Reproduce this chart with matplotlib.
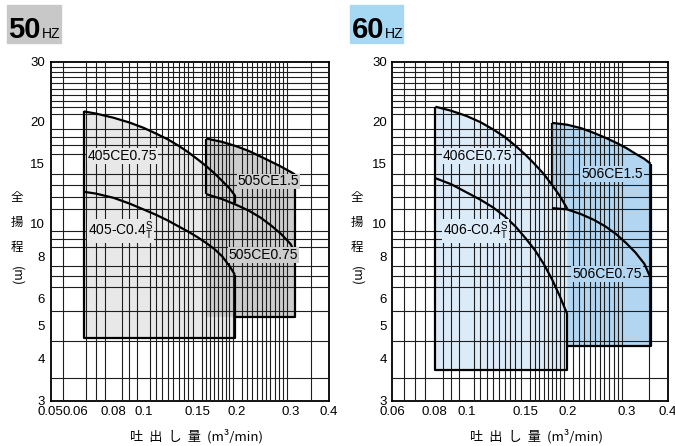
import matplotlib.pyplot as plt
import numpy as np
from matplotlib.patches import Rectangle

plt.rcParams['font.family'] = ['Liberation Sans', 'DejaVu Sans']
plt.rcParams['mathtext.fontset'] = 'custom'
plt.rcParams['mathtext.rm'] = 'Liberation Sans'
cjk = ['Noto Sans CJK JP', 'DejaVu Sans']

# ---- 50Hz curves (flow m3/min, head m) ----
q_405ce075 = [0.064, 0.07, 0.08, 0.09, 0.10, 0.11, 0.12, 0.13, 0.14, 0.15, 0.16, 0.17, 0.18, 0.19, 0.198]
h_405ce075 = [21.4, 21.1, 20.5, 19.85, 19.15, 18.4, 17.7, 16.95, 16.2, 15.45, 14.75, 14.05, 13.35, 12.7, 12.1]
q_405c04 = [0.064, 0.07, 0.08, 0.09, 0.10, 0.11, 0.12, 0.13, 0.14, 0.15, 0.16, 0.17, 0.18, 0.19, 0.198]
h_405c04 = [12.4, 12.25, 11.9, 11.45, 11.0, 10.6, 10.2, 9.8, 9.45, 9.1, 8.75, 8.4, 8.0, 7.5, 7.06]
q_505ce15 = [0.16, 0.18, 0.20, 0.22, 0.24, 0.26, 0.28, 0.30, 0.31]
h_505ce15 = [17.8, 17.4, 16.9, 16.35, 15.75, 15.2, 14.7, 14.2, 13.95]
q_505ce075 = [0.16, 0.18, 0.20, 0.22, 0.24, 0.26, 0.28, 0.30, 0.31]
h_505ce075 = [12.2, 11.8, 11.35, 10.9, 10.4, 9.85, 9.3, 8.7, 8.2]
h_min_405 = 4.6
h_min_505 = 5.3

# ---- 60Hz curves ----
q_406ce075 = [0.0807, 0.09, 0.10, 0.11, 0.12, 0.13, 0.14, 0.15, 0.16, 0.17, 0.18, 0.19, 0.20]
h_406ce075 = [22.1, 21.5, 20.75, 19.9, 18.95, 18.0, 16.95, 15.95, 14.95, 14.0, 13.0, 12.05, 11.05]
q_406c04 = [0.0807, 0.09, 0.10, 0.11, 0.12, 0.13, 0.14, 0.15, 0.16, 0.17, 0.18, 0.19, 0.20]
h_406c04 = [13.6, 13.05, 12.35, 11.75, 11.15, 10.5, 9.8, 9.05, 8.35, 7.6, 6.85, 6.1, 5.4]
q_506ce15 = [0.18, 0.20, 0.22, 0.24, 0.26, 0.28, 0.30, 0.32, 0.34, 0.355]
h_506ce15 = [19.8, 19.55, 19.1, 18.5, 17.9, 17.3, 16.7, 16.05, 15.5, 15.0]
q_506ce075 = [0.18, 0.20, 0.22, 0.24, 0.26, 0.28, 0.30, 0.32, 0.34, 0.355]
h_506ce075 = [11.1, 11.0, 10.65, 10.25, 9.8, 9.3, 8.75, 8.2, 7.6, 6.9]
h_min_406 = 3.69
h_min_506 = 4.36

yticks = [3, 4, 5, 6, 8, 10, 15, 20, 30]
xticks_50 = [0.05, 0.06, 0.08, 0.1, 0.15, 0.2, 0.3, 0.4]
xticks_60 = [0.06, 0.08, 0.1, 0.15, 0.2, 0.3, 0.4]

grey_lt, grey_dk = '#e8e8e8', '#cdcdcd'
blue_lt, blue_dk = '#dcebf8', '#b2d6f1'
LW = 1.6


def base_axes(ax, x0, xticks):
    ax.set_xscale('log')
    ax.set_yscale('log')
    ax.set_xlim(x0, 0.4)
    ax.set_ylim(3, 30)
    xg = list(np.arange(x0, 0.2, 0.005)) + list(np.linspace(0.2, 0.3, 13)) + [0.35]
    yg = list(np.arange(3, 10, 0.5)) + list(np.arange(10, 31, 1))
    ax.set_xticks(xticks)
    ax.set_xticklabels([('%g' % t) for t in xticks])
    ax.set_yticks(yticks)
    ax.set_yticklabels([str(t) for t in yticks])
    ax.set_xticks(xg, minor=True)
    ax.set_yticks(yg, minor=True)
    ax.xaxis.set_minor_formatter(plt.NullFormatter())
    ax.yaxis.set_minor_formatter(plt.NullFormatter())
    ax.tick_params(which='both', length=0, labelsize=9.5, pad=4)
    ax.grid(which='minor', color='#1e1e1e', lw=0.8)
    ax.grid(which='major', visible=False)
    ax.set_axisbelow(False)
    for s in ax.spines.values():
        s.set_linewidth(1.3)


def region(ax, q, h, hmin, color, z):
    ax.fill(q + [q[-1], q[0]], h + [hmin, hmin], color=color, lw=0, zorder=z)


def seg(ax, xs, ys, z=3):
    ax.plot(xs, ys, color='black', lw=LW, zorder=z, solid_capstyle='butt')


def label(ax, x, y, s, color):
    ax.text(x, y, s, ha='left', va='center', fontsize=10, zorder=5,
            bbox=dict(fc=color, ec='none', pad=0.6))


fig = plt.figure(figsize=(6.75, 4.46), dpi=100)
ax1 = fig.add_axes([50.7 / 675, 1 - 400.7 / 446, 278.3 / 675, 339 / 446])
ax2 = fig.add_axes([392.3 / 675, 1 - 400.7 / 446, 275.7 / 675, 339 / 446])

# 50Hz
base_axes(ax1, 0.05, xticks_50)
region(ax1, q_405ce075, h_405ce075, h_min_405, grey_lt, 1.0)
region(ax1, q_505ce15, h_505ce15, h_min_505, grey_dk, 1.1)
seg(ax1, [q_405ce075[0], q_405ce075[0], q_405ce075[-1], q_405ce075[-1]],
    [h_405ce075[0], h_min_405, h_min_405, h_405c04[-1]])
seg(ax1, [q_405ce075[-1], q_405ce075[-1]], [h_405ce075[-1], 11.5])
seg(ax1, [q_505ce15[0], q_505ce15[0]], [h_505ce075[0], h_505ce15[0]])
seg(ax1, [q_405ce075[-1], q_505ce15[-1], q_505ce15[-1]], [h_min_505, h_min_505, h_505ce15[-1]])
for q, h in [(q_405ce075, h_405ce075), (q_405c04, h_405c04),
             (q_505ce15, h_505ce15), (q_505ce075, h_505ce075)]:
    seg(ax1, q, h, 4)
label(ax1, 0.066, 15.8, '405CE0.75', grey_lt)
label(ax1, 0.066, 9.5, r'405-C0.4$^{\mathrm{S}}_{\mathrm{T}}$', grey_lt)
label(ax1, 0.202, 13.3, '505CE1.5', grey_dk)
label(ax1, 0.189, 8.06, '505CE0.75', grey_dk)

# 60Hz
base_axes(ax2, 0.06, xticks_60)
region(ax2, q_506ce15, h_506ce15, h_min_506, blue_dk, 1.0)
seg(ax2, [q_506ce15[0], q_506ce15[0]], [h_506ce075[0], h_506ce15[0]], 1.1)
region(ax2, q_406ce075, h_406ce075, h_min_406, blue_lt, 1.2)
seg(ax2, [q_406ce075[0], q_406ce075[0], q_406ce075[-1], q_406ce075[-1]],
    [h_406ce075[0], h_min_406, h_min_406, h_406c04[-1]])
seg(ax2, [q_406ce075[-1], q_506ce15[-1], q_506ce15[-1]], [h_min_506, h_min_506, h_506ce15[-1]])
for q, h in [(q_406ce075, h_406ce075), (q_406c04, h_406c04),
             (q_506ce15, h_506ce15), (q_506ce075, h_506ce075)]:
    seg(ax2, q, h, 4)
label(ax2, 0.085, 15.8, '406CE0.75', blue_lt)
label(ax2, 0.085, 9.5, r'406-C0.4$^{\mathrm{S}}_{\mathrm{T}}$', blue_lt)
label(ax2, 0.22, 14.0, '506CE1.5', blue_dk)
label(ax2, 0.207, 7.1, '506CE0.75', blue_dk)

# headers
for x0, w, bg, txt in [(7, 54, '#c8c8c8', '50'), (350, 53, '#a6d7f3', '60')]:
    fig.patches.append(Rectangle((x0 / 675, 1 - 43 / 446), w / 675, 38 / 446,
                                 transform=fig.transFigure, color=bg, zorder=0))
    fig.text((x0 + 1.5) / 675, 1 - 38 / 446, txt, fontsize=21, fontweight='bold',
             family='Liberation Sans', va='baseline')
    fig.text((x0 + 35) / 675, 1 - 38 / 446, 'HZ', fontsize=10,
             family='Liberation Sans', va='baseline')

# axis titles
for xc in [17, 357]:
    for ch, yc in [('全', 197), ('揚', 222), ('程', 247)]:
        fig.text(xc / 675, 1 - yc / 446, ch, ha='center', va='center', family=cjk, fontsize=9)
    fig.text(xc / 675, 1 - 276 / 446, '(m)', ha='center', va='center', family=cjk,
             fontsize=9, rotation=-90)
for xc in [197, 537]:
    fig.text(xc / 675, 1 - 436 / 446, '吐  出  し  量  (m³/min)', ha='center', va='center',
             family=cjk, fontsize=9.5)

fig.savefig('out.png', dpi=100)
